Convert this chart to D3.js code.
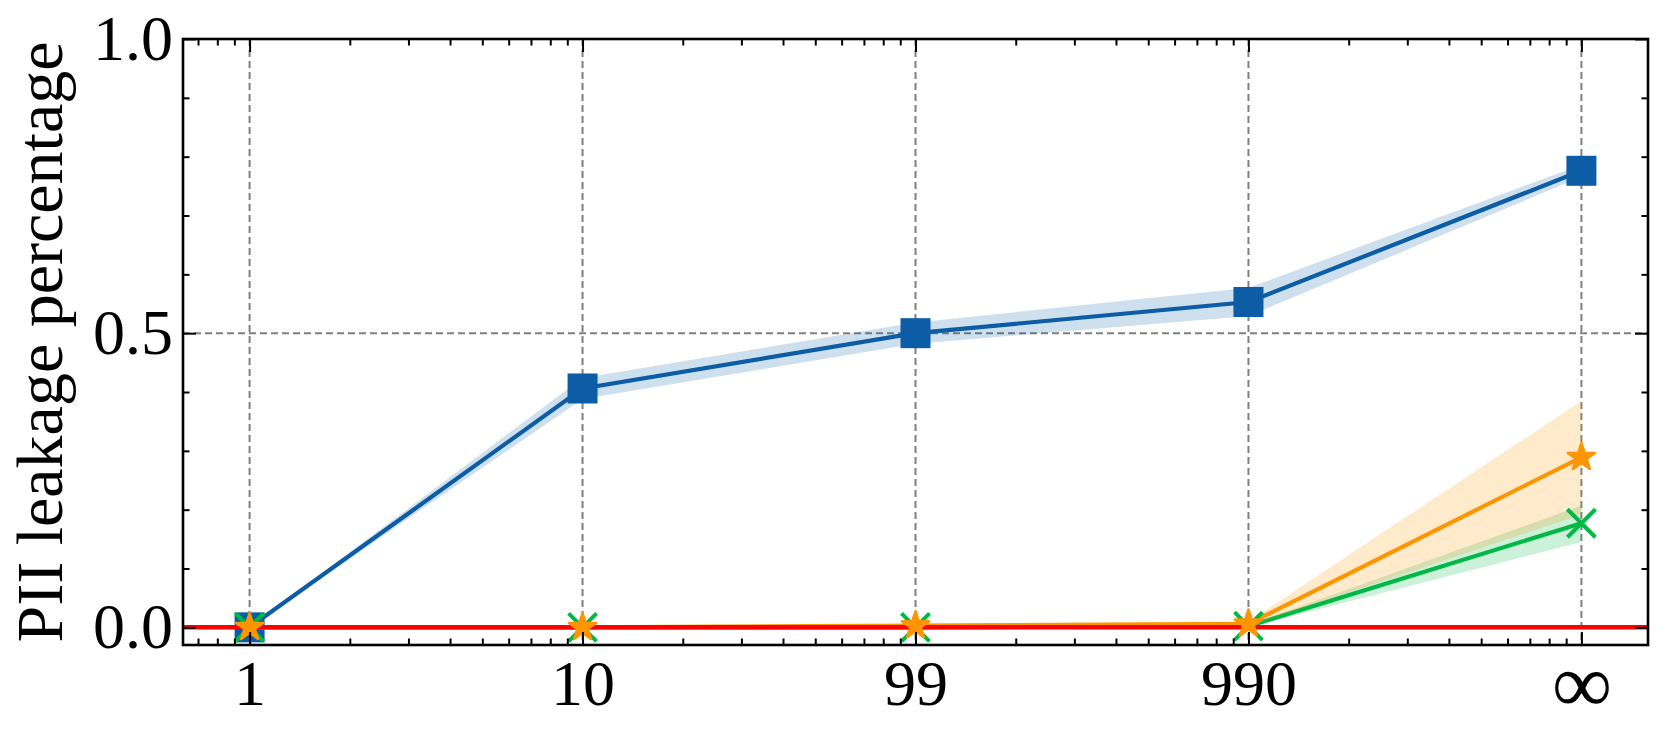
<!DOCTYPE html>
<html>
<head>
<meta charset="utf-8">
<script src="https://cdn.jsdelivr.net/npm/d3@7/dist/d3.min.js"></script>
<style>
  html, body { margin: 0; padding: 0; background: #fff; }
  svg { display: block; }
  text { font-family: "Liberation Serif", "DejaVu Serif", serif; fill: #000; }
</style>
</head>
<body>
<svg id="chart" width="1663" height="735"></svg>
<script>
// x positions (log scale) and what is printed under them
const xValues = [1, 10, 100, 1000, 10000];
const xLabels = ['1', '10', '99', '990', '\u221E'];

// series
const blueMean = [0.0, 0.406, 0.500, 0.553, 0.776];
const blueLow = [0.0, 0.388, 0.482, 0.529, 0.766];
const blueHigh = [0.0, 0.424, 0.518, 0.577, 0.786];

const greenMean = [0.0, 0.0, 0.0, 0.002, 0.177];
const greenLow = [0.0, 0.0, 0.0, 0.0, 0.145];
const greenHigh = [0.0, 0.0, 0.001, 0.004, 0.207];

const orangeMean = [0.0, 0.0, 0.003, 0.006, 0.289];
const orangeLow = [0.0, 0.0, 0.0, 0.002, 0.192];
const orangeHigh = [0.0, 0.0, 0.006, 0.010, 0.385];

const baselineValue = 0.0;

const yMajor = [0.0, 0.5, 1.0];
const yMinor = [0.1, 0.2, 0.3, 0.4, 0.6, 0.7, 0.8, 0.9];

const COLORS = { blue: '#0C5DA5', green: '#00B945', orange: '#FF9500', red: '#FF0000', grid: '#808080' };

const margin = { top: 39, right: 15, bottom: 90, left: 183 };
const width = 1663, height = 735;
const innerW = width - margin.left - margin.right;
const innerH = height - margin.top - margin.bottom;

const svg = d3.select('#chart');
const g = svg.append('g').attr('transform', `translate(${margin.left},${margin.top})`);

const x = d3.scaleLog().domain([Math.pow(10, -0.2), Math.pow(10, 4.2)]).range([0, innerW]);
const y = d3.scaleLinear().domain([-0.03, 1.0]).range([innerH, 0]);

// minor log ticks inside the domain
const xMinor = [];
for (let k = -1; k <= 4; k++) {
    for (let m = 2; m <= 9; m++) {
        const v = m * Math.pow(10, k);
        if (v > x.domain()[0] && v < x.domain()[1]) xMinor.push(v);
    }
}

// grid
const grid = g.append('g').attr('class', 'grid')
    .attr('stroke', COLORS.grid).attr('stroke-width', 2).attr('stroke-dasharray', '7,4');
grid.selectAll('line.gx').data(xValues).join('line')
    .attr('class', 'gx')
    .attr('x1', d => x(d)).attr('x2', d => x(d))
    .attr('y1', 0).attr('y2', innerH);
grid.selectAll('line.gy').data(yMajor).join('line')
    .attr('class', 'gy')
    .attr('x1', 0).attr('x2', innerW)
    .attr('y1', d => y(d)).attr('y2', d => y(d));

svg.append('clipPath').attr('id', 'plot-clip')
    .append('rect').attr('width', innerW).attr('height', innerH);
const plot = g.append('g').attr('clip-path', 'url(#plot-clip)');

function toRows(mean, lo, hi) {
    return xValues.map((xv, i) => ({ x: xv, y: mean[i], lo: lo[i], hi: hi[i] }));
}

const area = d3.area().x(d => x(d.x)).y0(d => y(d.lo)).y1(d => y(d.hi));
const line = d3.line().x(d => x(d.x)).y(d => y(d.y));

const series = [
    { key: 'blue', color: COLORS.blue, rows: toRows(blueMean, blueLow, blueHigh), marker: 'square' },
    { key: 'green', color: COLORS.green, rows: toRows(greenMean, greenLow, greenHigh), marker: 'x' },
    { key: 'orange', color: COLORS.orange, rows: toRows(orangeMean, orangeLow, orangeHigh), marker: 'star' }
];

function drawSeries(s) {
    const grp = plot.append('g').attr('class', `series-${s.key}`);
    grp.append('path').datum(s.rows)
        .attr('d', area)
        .attr('fill', s.color).attr('fill-opacity', 0.2).attr('stroke', 'none');
    grp.append('path').datum(s.rows)
        .attr('d', line)
        .attr('fill', 'none').attr('stroke', s.color).attr('stroke-width', 4.2);
    return grp;
}

function drawMarkers(s) {
    const grp = plot.append('g').attr('class', `markers-${s.key}`);
    const pts = grp.selectAll('g.pt').data(s.rows).join('g')
        .attr('class', 'pt')
        .attr('transform', d => `translate(${x(d.x)},${y(d.y)})`);
    if (s.marker === 'square') {
        pts.append('rect')
            .attr('x', -15).attr('y', -15).attr('width', 30).attr('height', 30)
            .attr('fill', s.color);
    } else if (s.marker === 'star') {
        pts.append('path')
            .attr('d', d3.symbol().type(d3.symbolStar).size(230)())
            .attr('fill', s.color)
            .attr('stroke', s.color).attr('stroke-width', 2.5).attr('stroke-linejoin', 'round');
    } else {
        const h = 14;
        pts.append('path')
            .attr('d', `M${-h},${-h}L${h},${h}M${-h},${h}L${h},${-h}`)
            .attr('stroke', s.color).attr('stroke-width', 4).attr('fill', 'none');
    }
}

// blue first, then green/orange lines, then the red zero line, then their markers
drawSeries(series[0]);
drawMarkers(series[0]);
drawSeries(series[1]);
drawSeries(series[2]);

plot.append('line')
    .attr('x1', 0).attr('x2', innerW)
    .attr('y1', y(baselineValue)).attr('y2', y(baselineValue))
    .attr('stroke', COLORS.red).attr('stroke-width', 4.5);

drawMarkers(series[1]);
drawMarkers(series[2]);

// axes, ticks pointing inward
function styleAxis(sel) {
    sel.select('.domain').remove();
    sel.selectAll('.tick line').attr('stroke', '#000').attr('stroke-width', 2);
    sel.selectAll('.tick text').style('font-size', '64px')
        .style('font-family', '"Liberation Serif", "DejaVu Serif", serif');
}

const xLabelOf = v => xLabels[xValues.indexOf(v)];

const xAxisG = g.append('g').attr('transform', `translate(0,${innerH})`)
    .call(d3.axisBottom(x).tickValues(xValues).tickFormat(xLabelOf).tickSize(-13).tickPadding(15))
    .call(styleAxis);
// the infinity glyph is drawn wider in the original
xAxisG.selectAll('.tick text').filter(d => xLabelOf(d) === '\u221E')
    .style('font-size', '84px').attr('dy', '0.62em');

g.append('g').attr('transform', `translate(0,${innerH})`)
    .call(d3.axisBottom(x).tickValues(xMinor).tickFormat('').tickSize(-6.5))
    .call(styleAxis);
g.append('g')
    .call(d3.axisTop(x).tickValues(xValues).tickFormat('').tickSize(-13))
    .call(styleAxis);
g.append('g')
    .call(d3.axisTop(x).tickValues(xMinor).tickFormat('').tickSize(-6.5))
    .call(styleAxis);

g.append('g')
    .call(d3.axisLeft(y).tickValues(yMajor).tickFormat(d3.format('.1f')).tickSize(-13).tickPadding(10))
    .call(styleAxis);
g.append('g')
    .call(d3.axisLeft(y).tickValues(yMinor).tickFormat('').tickSize(-6.5))
    .call(styleAxis);
g.append('g').attr('transform', `translate(${innerW},0)`)
    .call(d3.axisRight(y).tickValues(yMajor).tickFormat('').tickSize(-13))
    .call(styleAxis);
g.append('g').attr('transform', `translate(${innerW},0)`)
    .call(d3.axisRight(y).tickValues(yMinor).tickFormat('').tickSize(-6.5))
    .call(styleAxis);

// frame
g.append('rect')
    .attr('x', 0).attr('y', 0).attr('width', innerW).attr('height', innerH)
    .attr('fill', 'none').attr('stroke', '#000').attr('stroke-width', 2.6);

// y label
svg.append('text')
    .attr('transform', `translate(62,${margin.top + innerH / 2}) rotate(-90)`)
    .attr('text-anchor', 'middle')
    .style('font-size', '66px')
    .text('PII leakage percentage');
</script>
</body>
</html>
